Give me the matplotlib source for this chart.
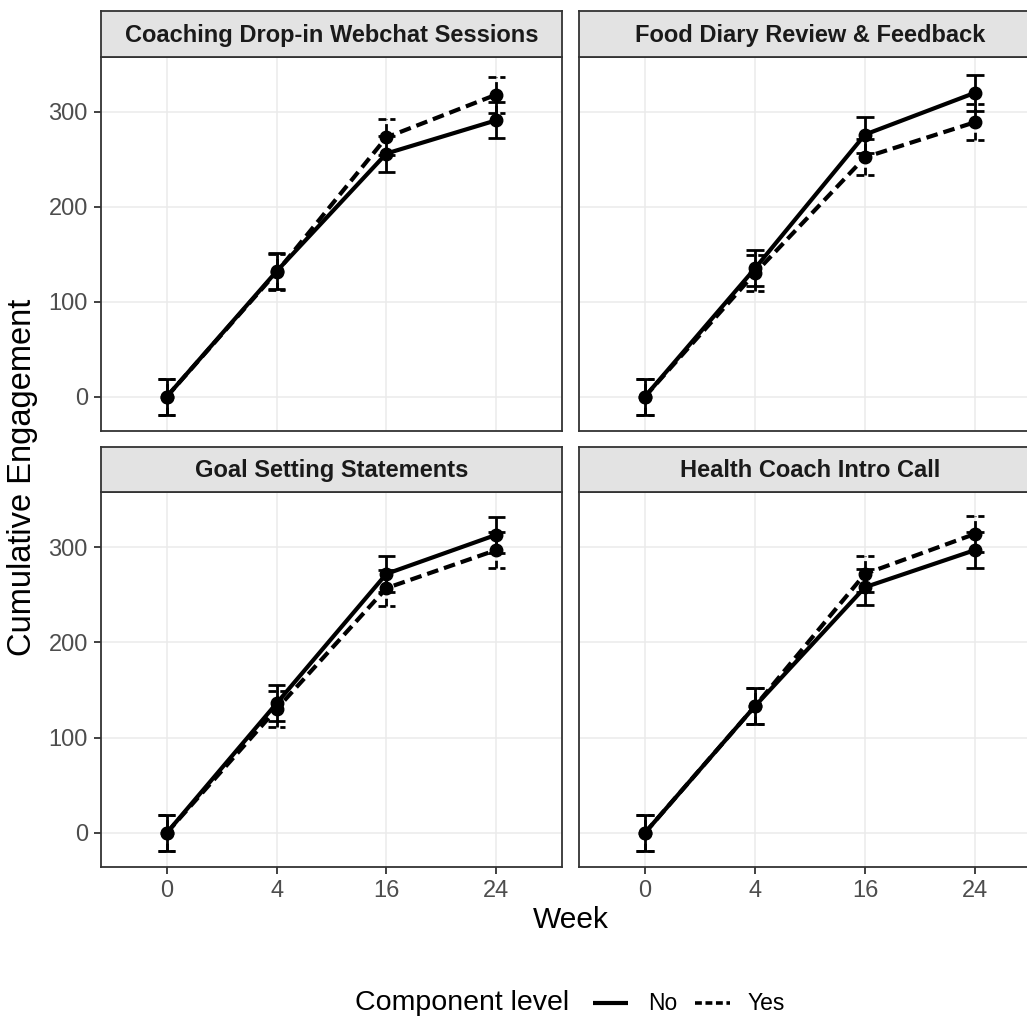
import matplotlib
matplotlib.use("Agg")
import matplotlib.pyplot as plt
from matplotlib.lines import Line2D
import numpy as np

plt.rcParams["font.family"] = ["Liberation Sans", "DejaVu Sans"]

# ---- data -------------------------------------------------------------
weeks = ["0", "4", "16", "24"]
components = [
    "Coaching Drop-in Webchat Sessions",
    "Food Diary Review & Feedback",
    "Goal Setting Statements",
    "Health Coach Intro Call",
]
levels = ["No", "Yes"]

coaching_no = [0, 132, 256, 291]
coaching_yes = [0, 131, 273, 318]
food_no = [0, 135, 276, 320]
food_yes = [0, 130, 252, 289]
goal_no = [0, 136, 272, 313]
goal_yes = [0, 130, 257, 297]
health_no = [0, 133, 258, 297]
health_yes = [0, 133, 272, 314]

coaching_se = [19, 19, 19, 19]
food_se = [19, 19, 19, 19]
goal_se = [19, 19, 19, 19]
health_se = [19, 19, 19, 19]

means = {
    components[0]: {"No": coaching_no, "Yes": coaching_yes},
    components[1]: {"No": food_no, "Yes": food_yes},
    components[2]: {"No": goal_no, "Yes": goal_yes},
    components[3]: {"No": health_no, "Yes": health_yes},
}
errors = {
    components[0]: coaching_se,
    components[1]: food_se,
    components[2]: goal_se,
    components[3]: health_se,
}

# ---- styling ----------------------------------------------------------
W, H = 1027, 1019
DPI = 100
GRAY20 = "#333333"
GRAY30 = "#4D4D4D"
GRID = "#EBEBEB"
STRIP = "#E3E3E3"
DASH = (0, (2.8, 1.45))
styles = {"No": "-", "Yes": DASH}

fig = plt.figure(figsize=(W / DPI, H / DPI), dpi=DPI)
fig.patch.set_facecolor("white")


def px_box(x0, y0, x1, y1):
    """Pixel box (top-left origin) -> figure fraction rect."""
    return [x0 / W, 1 - y1 / H, (x1 - x0) / W, (y1 - y0) / H]


cols = [(101, 562), (579, 1041)]
rows = [((11, 57), (57, 431)), ((446.7, 492.3), (492.3, 867.3))]

xpos = np.arange(1, len(weeks) + 1)
cap = 0.078

for i, comp in enumerate(components):
    r, c = divmod(i, 2)
    (sy0, sy1), (py0, py1) = rows[r]
    cx0, cx1 = cols[c]

    ax = fig.add_axes(px_box(cx0, py0, cx1, py1))
    ax.set_xlim(0.4, 4.6)
    ax.set_ylim(-36.3, 357.7)
    ax.set_facecolor("white")

    # error bars (both groups), then lines, then points
    se = np.array(errors[comp])
    for lvl in levels:
        y = np.array(means[comp][lvl])
        ls = styles[lvl]
        ax.vlines(xpos, y - se, y + se, colors="black", linewidth=2.0,
                  linestyles=[ls], zorder=3)
        ax.hlines(y - se, xpos - cap, xpos + cap, colors="black",
                  linewidth=2.0, linestyles=[ls], zorder=3)
        ax.hlines(y + se, xpos - cap, xpos + cap, colors="black",
                  linewidth=2.0, linestyles=[ls], zorder=3)
    for lvl in levels:
        y = means[comp][lvl]
        ax.plot(xpos, y, color="black", linewidth=3.0, linestyle=styles[lvl],
                zorder=4, solid_capstyle="butt", dash_capstyle="butt")
    for lvl in levels:
        y = means[comp][lvl]
        ax.plot(xpos, y, linestyle="none", marker="o", markersize=9,
                color="black", zorder=5)

    ax.set_yticks([0, 100, 200, 300])
    ax.set_xticks(xpos)
    ax.grid(True, color=GRID, linewidth=1.1, zorder=0)
    ax.set_axisbelow(True)
    for sp in ax.spines.values():
        sp.set_color(GRAY20)
        sp.set_linewidth(1.3)
    ax.tick_params(axis="both", color=GRAY20, width=1.3, length=5,
                   labelsize=17, labelcolor=GRAY30)
    ax.tick_params(axis="y", pad=4.5)
    ax.tick_params(axis="x", pad=4.5)
    if r == 0:
        ax.tick_params(axis="x", labelbottom=False, length=0)
    else:
        ax.set_xticklabels(weeks)
    if c == 1:
        ax.tick_params(axis="y", labelleft=False, length=0)

    # facet strip
    sax = fig.add_axes(px_box(cx0, sy0, cx1, sy1))
    sax.set_facecolor(STRIP)
    sax.set_xticks([])
    sax.set_yticks([])
    for sp in sax.spines.values():
        sp.set_color(GRAY20)
        sp.set_linewidth(1.3)
    sax.text(0.5, 0.47, comp, transform=sax.transAxes, ha="center",
             va="center", fontsize=17, fontweight="bold", color="#1A1A1A")

# axis titles
fig.text(571 / W, 1 - 920 / H, "Week", ha="center", va="center", fontsize=21.5)
fig.text(23 / W, 1 - 477 / H, "Cumulative Engagement", ha="center",
         va="center", rotation=90, fontsize=23.5)

# legend
ly = 1 - 1003 / H
fig.text(355 / W, ly, "Component level", ha="left", va="center", fontsize=20.5)
fig.add_artist(Line2D([593 / W, 628 / W], [ly, ly], color="black",
                      linewidth=3.0, solid_capstyle="butt"))
fig.text(648 / W, ly, "No", ha="left", va="center", fontsize=16.5)
fig.add_artist(Line2D([695 / W, 730 / W], [ly, ly], color="black",
                      linewidth=2.6, linestyle=(0, (1.9, 1.0)),
                      dash_capstyle="butt"))
fig.text(748 / W, ly, "Yes", ha="left", va="center", fontsize=16.5)

fig.savefig("out.png", dpi=DPI)
